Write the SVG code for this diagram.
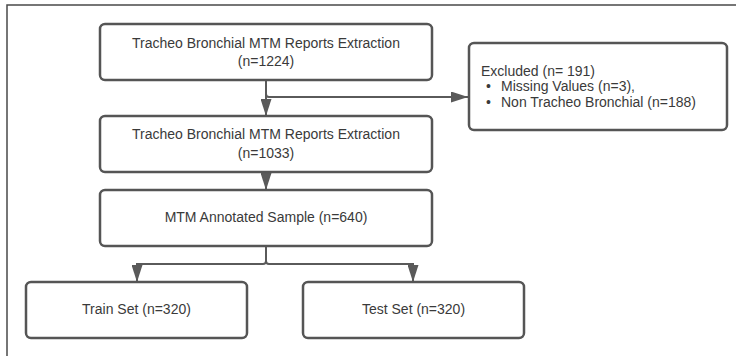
<svg xmlns="http://www.w3.org/2000/svg" width="736" height="356" viewBox="0 0 736 356">
<style>
  .box { fill: #ffffff; stroke: #555555; stroke-width: 2.5; }
  .lbl { font-family: "Liberation Sans", Arial, sans-serif; font-size: 14px; fill: #3a3a3a; }
  .mid { text-anchor: middle; }
  .conn { fill: none; stroke: #5a5a5a; stroke-width: 2; }
  .frame { fill: none; stroke: #4a4a4a; stroke-width: 1.5; }
</style>
<defs>
  <marker id="arr" viewBox="0 0 17 11" refX="17" refY="5.5" markerWidth="17" markerHeight="11" markerUnits="userSpaceOnUse" orient="auto">
    <path d="M0,0 L17,5.5 L0,11 Z" fill="#5a5a5a"/>
  </marker>
</defs>
<rect x="0" y="0" width="736" height="356" fill="#ffffff"/>
<path class="frame" d="M7,356 L7,5 L736,5"/>

<g id="connectors">
  <path class="conn" d="M266,80 L266,116" marker-end="url(#arr)"/>
  <path class="conn" d="M266,94 Q266,97 269,97 L468,97" marker-end="url(#arr)"/>
  <path class="conn" d="M266,172 L266,190" marker-end="url(#arr)"/>
  <path class="conn" d="M266,246 L266,261 Q266,264 263,264 L137,264 L137,282" marker-end="url(#arr)"/>
  <path class="conn" d="M266,261 Q266,264 269,264 L413,264 L413,282" marker-end="url(#arr)"/>
</g>

<g id="node-extraction-1224">
  <rect class="box" x="100" y="24" width="332" height="56" rx="5"/>
  <text class="lbl mid" x="266" y="48">Tracheo Bronchial MTM Reports Extraction</text>
  <text class="lbl mid" x="266" y="66">(n=1224)</text>
</g>

<g id="node-excluded">
  <rect class="box" x="469" y="43" width="258" height="87" rx="5"/>
  <text class="lbl" x="481" y="76">Excluded (n= 191)</text>
  <text class="lbl" x="486" y="91">•</text>
  <text class="lbl" x="501" y="91">Missing Values (n=3),</text>
  <text class="lbl" x="486" y="107">•</text>
  <text class="lbl" x="501" y="107">Non Tracheo Bronchial (n=188)</text>
</g>

<g id="node-extraction-1033">
  <rect class="box" x="100" y="116" width="332" height="56" rx="5"/>
  <text class="lbl mid" x="266" y="139">Tracheo Bronchial MTM Reports Extraction</text>
  <text class="lbl mid" x="266" y="158">(n=1033)</text>
</g>

<g id="node-annotated">
  <rect class="box" x="100" y="190" width="332" height="56" rx="5"/>
  <text class="lbl mid" x="266" y="222">MTM Annotated Sample (n=640)</text>
</g>

<g id="node-train">
  <rect class="box" x="26" y="282" width="221" height="56" rx="5"/>
  <text class="lbl mid" x="136.5" y="314">Train Set (n=320)</text>
</g>

<g id="node-test">
  <rect class="box" x="303" y="282" width="221" height="56" rx="5"/>
  <text class="lbl mid" x="413.5" y="314">Test Set (n=320)</text>
</g>
</svg>
